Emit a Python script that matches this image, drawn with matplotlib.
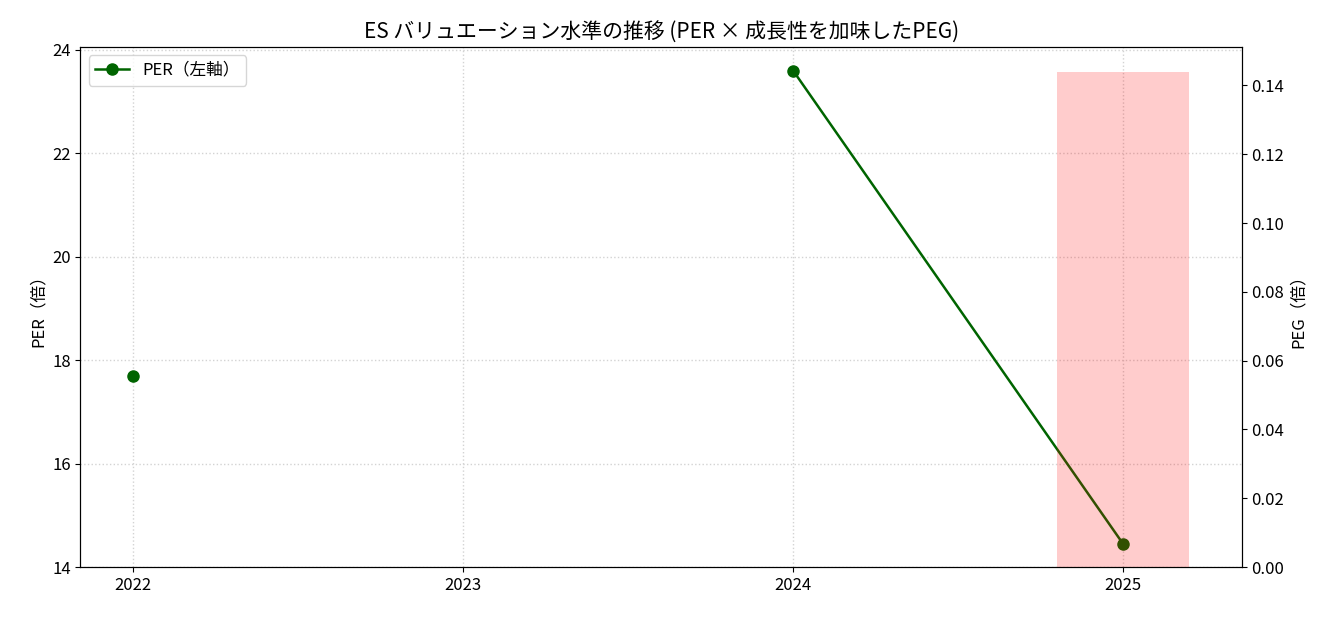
import numpy as np
import matplotlib
matplotlib.use("Agg")
import matplotlib.pyplot as plt

plt.rcParams['font.family'] = ['Noto Sans CJK JP', 'DejaVu Sans']

years = [2022, 2023, 2024, 2025]
per = [17.7, np.nan, 23.6, 14.45]
peg_years = [2025]
peg = [0.144]

fig, ax1 = plt.subplots(figsize=(13.41, 6.17), dpi=100)

ax1.plot(years, per, marker='o', color='darkgreen', linewidth=1.8,
         markersize=8, label='PER（左軸）')
ax1.set_ylabel('PER（倍）', fontsize=12)
ax1.set_ylim(bottom=14)
ax1.set_xticks(years)
ax1.tick_params(labelsize=12)
ax1.grid(True, linestyle=':', color='lightgray', linewidth=1)

ax2 = ax1.twinx()
ax2.bar(peg_years, peg, width=0.4, color='red', alpha=0.2, label='PEG（右軸）')
ax2.set_ylabel('PEG（倍）', fontsize=12)
ax2.tick_params(labelsize=12)

ax1.legend(loc='upper left', fontsize=12)
ax1.set_title('ES バリュエーション水準の推移 (PER × 成長性を加味したPEG)', fontsize=15)

fig.subplots_adjust(left=0.06, right=0.926, top=0.924, bottom=0.081)
fig.savefig('out.png')
